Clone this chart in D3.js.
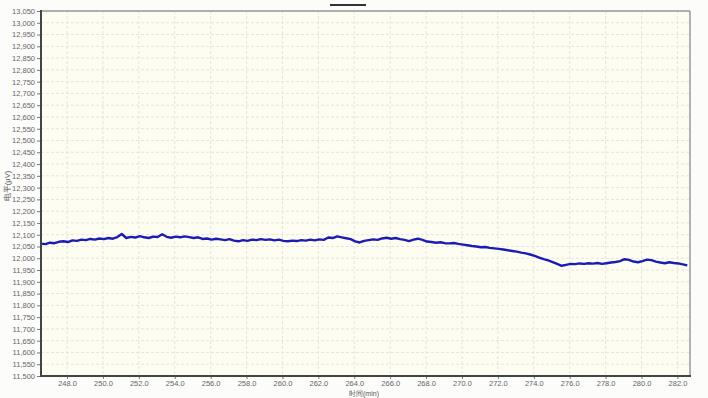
<!DOCTYPE html>
<html>
<head>
<meta charset="utf-8">
<title>电平 vs 时间</title>
<script src="https://d3js.org/d3.v7.min.js"></script>
<style>
  body { margin: 0; background: #fcfcfa; }
  text { font-family: "Liberation Sans", "DejaVu Sans", sans-serif; }
</style>
</head>
<body>
<script>
// level readings (μV), sampled every 0.25 min starting at 246.55 min
var tStart = 246.55, tStep = 0.25;
var levels = [
  12062,12060,12066,12064,12070,12072,12069,12076,12074,12079,
  12077,12082,12079,12084,12081,12086,12083,12090,12103,12086,
  12091,12088,12094,12089,12086,12092,12090,12102,12091,12087,
  12092,12089,12093,12090,12086,12089,12082,12084,12079,12083,
  12080,12077,12081,12075,12072,12077,12074,12079,12077,12081,
  12078,12080,12076,12079,12074,12072,12075,12073,12077,12075,
  12079,12076,12080,12078,12088,12086,12093,12089,12085,12081,
  12072,12067,12074,12077,12080,12078,12084,12087,12083,12086,
  12081,12078,12073,12079,12083,12078,12071,12069,12066,12068,
  12064,12063,12065,12061,12058,12055,12052,12050,12047,12048,
  12044,12042,12040,12037,12034,12031,12028,12024,12021,12016,
  12010,12003,11996,11991,11984,11976,11968,11972,11976,11975,
  11978,11976,11979,11977,11980,11976,11979,11982,11984,11988,
  11996,11993,11986,11983,11988,11994,11992,11986,11982,11979,
  11983,11980,11978,11974,11970
];
var xTicks = [248,250,252,254,256,258,260,262,264,266,268,270,272,274,276,278,280,282];
var yTicks = d3.range(11500, 13051, 50);

var W = 708, H = 398;
var pLeft = 41, pRight = 690, pTop = 11, pBottom = 376;

var svg = d3.select("body").append("svg")
  .attr("width", W).attr("height", H);

var x = d3.scaleLinear().domain([246.55, 282.7]).range([pLeft, pRight]);
var y = d3.scaleLinear().domain([11500, 13050]).range([pBottom, pTop]);

// plot background
svg.append("rect")
  .attr("x", pLeft).attr("y", pTop)
  .attr("width", pRight - pLeft).attr("height", pBottom - pTop)
  .attr("fill", "#fdfdf2");

// grid
svg.append("g").selectAll("line").data(yTicks).enter().append("line")
  .attr("x1", pLeft).attr("x2", pRight)
  .attr("y1", d => y(d)).attr("y2", d => y(d))
  .attr("stroke", "#e4e6dc").attr("stroke-dasharray", "3,2");
svg.append("g").selectAll("line").data(xTicks).enter().append("line")
  .attr("y1", pTop).attr("y2", pBottom)
  .attr("x1", d => x(d)).attr("x2", d => x(d))
  .attr("stroke", "#e4e6dc").attr("stroke-dasharray", "3,2");

// axes
var yAxis = d3.axisLeft(y).tickValues(yTicks).tickSize(4).tickPadding(2)
  .tickFormat(d3.format(","));
var gy = svg.append("g").attr("transform", "translate(" + pLeft + ",0)").call(yAxis);
var xAxis = d3.axisBottom(x).tickValues(xTicks).tickSize(3).tickPadding(2)
  .tickFormat(d3.format(".1f"));
var gx = svg.append("g").attr("transform", "translate(0," + pBottom + ")").call(xAxis);

[gy, gx].forEach(function(g) {
  g.select(".domain").remove();
  g.selectAll("line").attr("stroke", "#777");
  g.selectAll("text").attr("fill", "#666").style("font-size", "7.5px");
});

// data line
var line = d3.line()
  .x((d, i) => x(tStart + i * tStep))
  .y(d => y(d));
svg.append("path")
  .datum(levels)
  .attr("d", line)
  .attr("fill", "none")
  .attr("stroke", "#1c1cb4")
  .attr("stroke-width", 2.4)
  .attr("stroke-linejoin", "round");

// frame
svg.append("line").attr("x1", pLeft).attr("x2", pRight).attr("y1", pTop).attr("y2", pTop)
  .attr("stroke", "#999").attr("stroke-width", 1.5);
svg.append("line").attr("x1", pRight).attr("x2", pRight).attr("y1", pTop).attr("y2", pBottom)
  .attr("stroke", "#999").attr("stroke-width", 1.5);
svg.append("line").attr("x1", pLeft).attr("x2", pLeft).attr("y1", pTop - 1).attr("y2", pBottom + 1)
  .attr("stroke", "#444").attr("stroke-width", 2);
svg.append("line").attr("x1", pLeft - 1).attr("x2", pRight + 1).attr("y1", pBottom).attr("y2", pBottom)
  .attr("stroke", "#444").attr("stroke-width", 2);

// small tab at the top
svg.append("line").attr("x1", 330).attr("x2", 366).attr("y1", 5).attr("y2", 5)
  .attr("stroke", "#333").attr("stroke-width", 2);

// axis titles
svg.append("text")
  .attr("transform", "translate(10,186) rotate(-90)")
  .attr("text-anchor", "middle")
  .attr("fill", "#555").style("font-size", "7.5px")
  .text("电平(μV)");
svg.append("text")
  .attr("x", 364).attr("y", 396)
  .attr("text-anchor", "middle")
  .attr("fill", "#555").style("font-size", "7px")
  .text("时间(min)");
</script>
</body>
</html>
